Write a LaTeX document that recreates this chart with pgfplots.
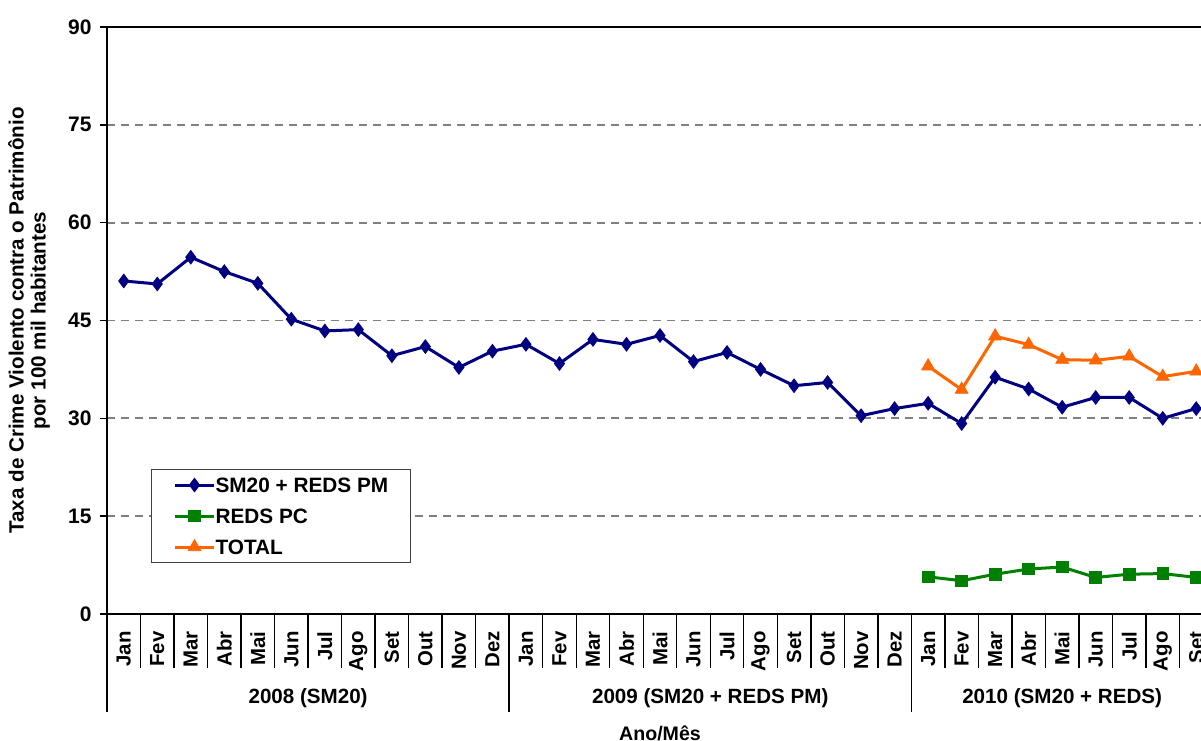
\documentclass[border=0pt]{standalone}
\usepackage{fontspec}
\setmainfont{Liberation Sans}
\usepackage{pgfplots}
\pgfplotsset{compat=1.18}
\definecolor{sblue}{HTML}{000080}
\definecolor{sgreen}{HTML}{008000}
\definecolor{sorange}{HTML}{FF6600}
\definecolor{gridgray}{HTML}{808080}
\begin{document}
\begin{tikzpicture}
\useasboundingbox (0,0) rectangle (600.5pt,370pt);
\clip (0,0) rectangle (600.5pt,370pt);
\begin{axis}[
  at={(53.5pt,63pt)}, anchor=south west,
  scale only axis, width=553pt, height=293.5pt,
  clip=false,
  xmin=-0.5, xmax=32.5, ymin=0, ymax=90,
  ytick={0,15,...,90},
  xtick={0,...,32},
  xticklabels={Jan,Fev,Mar,Abr,Mai,Jun,Jul,Ago,Set,Out,Nov,Dez,Jan,Fev,Mar,Abr,Mai,Jun,Jul,Ago,Set,Out,Nov,Dez,Jan,Fev,Mar,Abr,Mai,Jun,Jul,Ago,Set},
  minor xtick={-0.5,0.5,...,32.5},
  tick pos=left, tick align=outside,
  major tick length=3.5pt, minor tick length=27pt,
  major x tick style={draw=none},
  minor x tick style={black, line width=0.7pt},
  major y tick style={black, line width=0.7pt},
  ymajorgrids,
  major grid style={gridgray, line width=0.9pt, dash pattern=on 4pt off 3pt},
  axis line style={black, line width=1pt},
  /pgf/number format/assume math mode=true,
  yticklabel style={font=\bfseries\fontsize{10.5}{12}\selectfont, inner sep=0pt},
  yticklabel shift=4pt,
  xticklabel style={font=\bfseries\fontsize{10.2}{12}\selectfont, rotate=90, anchor=east, inner sep=0pt},
  xticklabel shift=5pt,
  ylabel={Taxa de Crime Violento contra o Patrimônio\\por 100 mil habitantes},
  ylabel style={align=center, font=\bfseries\fontsize{10.3}{11}\selectfont, at={(axis description cs:-0.0705,0.5)}, anchor=center},
  xlabel={Ano/Mês},
  xlabel style={font=\bfseries\fontsize{9.8}{11}\selectfont, at={(axis description cs:0.5,0)}, anchor=center, yshift=-59.5pt},
  legend style={at={(0.0398,0.247)}, anchor=north west, draw=black!75, line width=0.5pt, fill=white,
    inner xsep=11pt, inner ysep=4pt, row sep=8pt,
    font=\bfseries\fontsize{10.4}{12}\selectfont,
    nodes={inner sep=0pt, text height=7.5pt, text depth=0pt},
    /tikz/every even column/.append style={column sep=2.5pt}},
  legend cell align=left,
  legend image code/.code={\draw[mark repeat=2,mark phase=2] plot coordinates {(0pt,0pt) (9.75pt,0pt) (19.5pt,0pt)};},
]
\addplot[sblue, line width=1.5pt, mark=diamond*, mark size=3.4pt, mark options={line width=0.4pt}] coordinates {
(0,51.06) (1,50.6) (2,54.7) (3,52.5) (4,50.7) (5,45.2) (6,43.4) (7,43.6) (8,39.6) (9,41.0) (10,37.8) (11,40.3)
(12,41.35) (13,38.4) (14,42.1) (15,41.35) (16,42.7) (17,38.7) (18,40.1) (19,37.5) (20,35.0) (21,35.5) (22,30.4) (23,31.5)
(24,32.3) (25,29.2) (26,36.3) (27,34.5) (28,31.7) (29,33.2) (30,33.2) (31,30.0) (32,31.5)};
\addplot[sgreen, line width=1.5pt, mark=square*, mark size=2.9pt, mark options={line width=0.4pt}] coordinates {
(24,5.7) (25,5.1) (26,6.1) (27,6.9) (28,7.2) (29,5.6) (30,6.1) (31,6.2) (32,5.6)};
\addplot[sorange, line width=1.5pt, mark=triangle*, mark size=3.7pt, mark options={line width=0.4pt}] coordinates {
(24,38.0) (25,34.4) (26,42.6) (27,41.3) (28,39.0) (29,38.9) (30,39.5) (31,36.4) (32,37.2)};
\legend{SM20 + REDS PM\hspace{7pt}, REDS PC, TOTAL}
\draw[line width=0.7pt] (axis cs:-0.5,0) -- ++(0pt,-49pt);
\draw[line width=0.7pt] (axis cs:11.5,0) -- ++(0pt,-49pt);
\draw[line width=0.7pt] (axis cs:23.5,0) -- ++(0pt,-49pt);
\draw[line width=0.7pt] (axis cs:32.5,0) -- ++(0pt,-49pt);
\node[font=\bfseries\fontsize{10.3}{11}\selectfont, yshift=-42pt] at (axis cs:5.5,0) {2008 (SM20)};
\node[font=\bfseries\fontsize{10.3}{11}\selectfont, yshift=-42pt] at (axis cs:17.5,0) {2009 (SM20 + REDS PM)};
\node[font=\bfseries\fontsize{10.3}{11}\selectfont, yshift=-42pt] at (axis cs:28,0) {2010 (SM20 + REDS)};
\end{axis}
\end{tikzpicture}
\end{document}
